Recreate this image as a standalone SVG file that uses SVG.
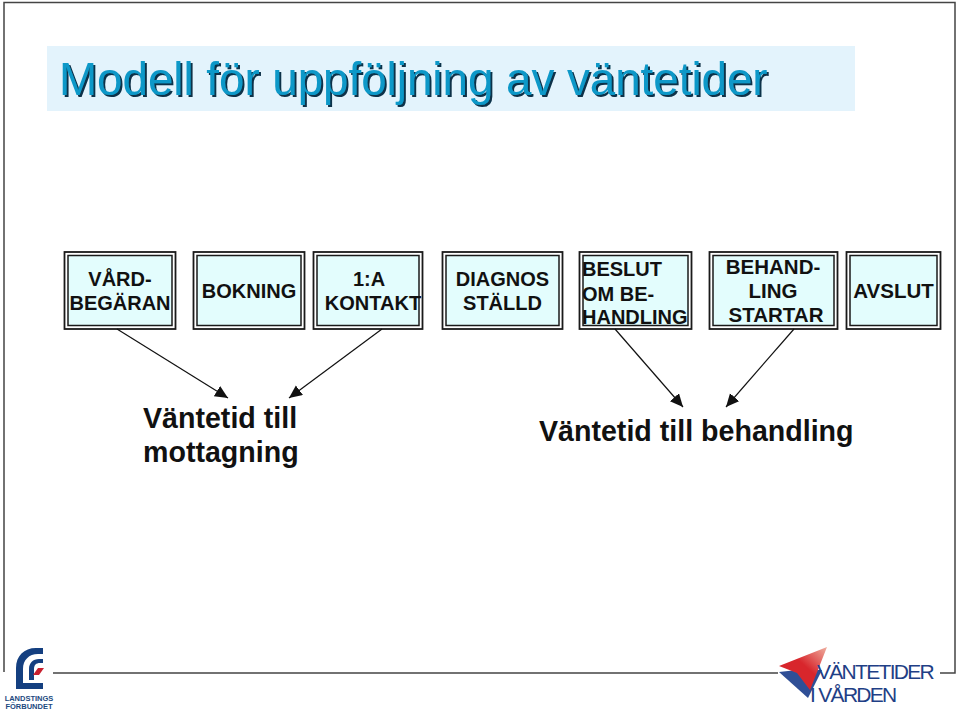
<svg xmlns="http://www.w3.org/2000/svg" width="960" height="713" viewBox="0 0 960 713">
<style>
text{font-family:"Liberation Sans",Arial,sans-serif}
.o{fill:#fff;stroke:#1a1a1a;stroke-width:1.8}
.i{fill:#e3fdfd;stroke:#1a1a1a;stroke-width:1.5}
.l{font-size:20px;font-weight:700;fill:#111;text-anchor:middle}
.w{font-size:20.500px}
.ls{font-size:20px;font-weight:700;fill:#111}
.b{font-size:28.600px;font-weight:700;fill:#111}
.t{font-size:45.700px}
.c{stroke:#111;stroke-width:1.2;fill:none;marker-end:url(#a)}
.f{stroke:#444;stroke-width:1.5;fill:none}
</style>
<defs>
<marker id="a" markerUnits="userSpaceOnUse" markerWidth="14" markerHeight="14" refX="13" refY="6" orient="auto"><path d="M0 0L13 6L0 12Z" fill="#111"/></marker>
<filter id="s" x="-2%" y="-10%" width="104%" height="125%"><feDropShadow dx="2" dy="2" stdDeviation="0.300" flood-color="#10324a"/></filter>
<linearGradient id="r" x1="0" y1="1" x2="1" y2="0"><stop offset="0.550" stop-color="#d8262c"/><stop offset="1" stop-color="#efb0a0"/></linearGradient>
</defs>
<rect width="960" height="713" fill="#fff"/>
<path id="frame" class="f" d="M4 672V2.500H955V673H940M778 673H53"/>
<g id="title">
<rect x="47" y="46" width="808" height="65" fill="#e3f3fc"/>
<text class="t" x="59" y="95" fill="#0f98c8" filter="url(#s)">Modell för uppföljning av väntetider</text>
</g>
<g id="n1"><rect class="o" x="64.500" y="252" width="111" height="77"/><rect class="i" x="68" y="255.500" width="104" height="70"/><text class="l" x="120" y="286">VÅRD-</text><text class="l" x="120" y="310">BEGÄRAN</text></g>
<g id="n2"><rect class="o" x="193.500" y="252" width="111" height="77"/><rect class="i" x="197" y="255.500" width="104" height="70"/><text class="l" x="249" y="298">BOKNING</text></g>
<g id="n3"><rect class="o" x="313.500" y="252" width="109" height="77"/><rect class="i" x="317" y="255.500" width="102" height="70"/><text class="l" x="369" y="286">1:A</text><text class="l" x="373" y="310">KONTAKT</text></g>
<g id="n4"><rect class="o" x="442.500" y="252" width="120" height="77"/><rect class="i" x="446" y="255.500" width="113" height="70"/><text class="l" x="502.500" y="286">DIAGNOS</text><text class="l" x="502.500" y="310">STÄLLD</text></g>
<g id="n5"><rect class="o" x="579.500" y="252" width="112" height="77"/><rect class="i" x="583" y="255.500" width="105" height="70"/><text class="ls" x="582" y="276">BESLUT</text><text class="ls" x="582" y="301">OM BE-</text><text class="ls" x="582" y="324">HANDLING</text></g>
<g id="n6"><rect class="o" x="709.500" y="252" width="128" height="77"/><rect class="i" x="713" y="255.500" width="121" height="70"/><text class="l w" x="773" y="274">BEHAND-</text><text class="l w" x="773" y="298">LING</text><text class="l w" x="776" y="322">STARTAR</text></g>
<g id="n7"><rect class="o" x="846.500" y="252" width="94" height="77"/><rect class="i" x="850" y="255.500" width="87" height="70"/><text class="l w" x="893.500" y="298">AVSLUT</text></g>
<g id="connectors">
<path class="c" d="M117 329L228 398"/>
<path class="c" d="M382 329L289 398"/>
<path class="c" d="M615 329L683 407"/>
<path class="c" d="M794 329L726 407"/>
</g>
<g id="label1"><text class="b" x="143" y="428">Väntetid till</text><text class="b" x="143" y="462">mottagning</text></g>
<g id="label2"><text class="b" x="539" y="441">Väntetid till behandling</text></g>
<g id="logo-left">
<path d="M16 689V668C16 656 24 648 36 648H43V654H38C29 654 23 660 23 669V683H43V689Z" fill="#143f80"/>
<path d="M29 680V669C29 663 33 659 39 659H43V663H40C36 663 34 665 34 669V680Z" fill="#143f80"/>
<path d="M33 675L38 668H44L39 675Z" fill="#c8202f"/>
<text x="29" y="701" font-size="7.500" font-weight="700" fill="#1c4a80" text-anchor="middle">LANDSTINGS</text>
<text x="29" y="709" font-size="7.500" font-weight="700" fill="#1c4a80" text-anchor="middle">FÖRBUNDET</text>
</g>
<g id="logo-right">
<path d="M779 672L808 698L822 670L797 670Z" fill="#2f4f96"/>
<path d="M779 666L827 647L810 690L797 673Z" fill="url(#r)"/>
<text x="817" y="679" font-size="21" letter-spacing="-1.700" fill="#1f3f86">VÄNTETIDER</text>
<text x="810" y="702" font-size="21" letter-spacing="-1.700" fill="#1f3f86">I VÅRDEN</text>
</g>
</svg>
